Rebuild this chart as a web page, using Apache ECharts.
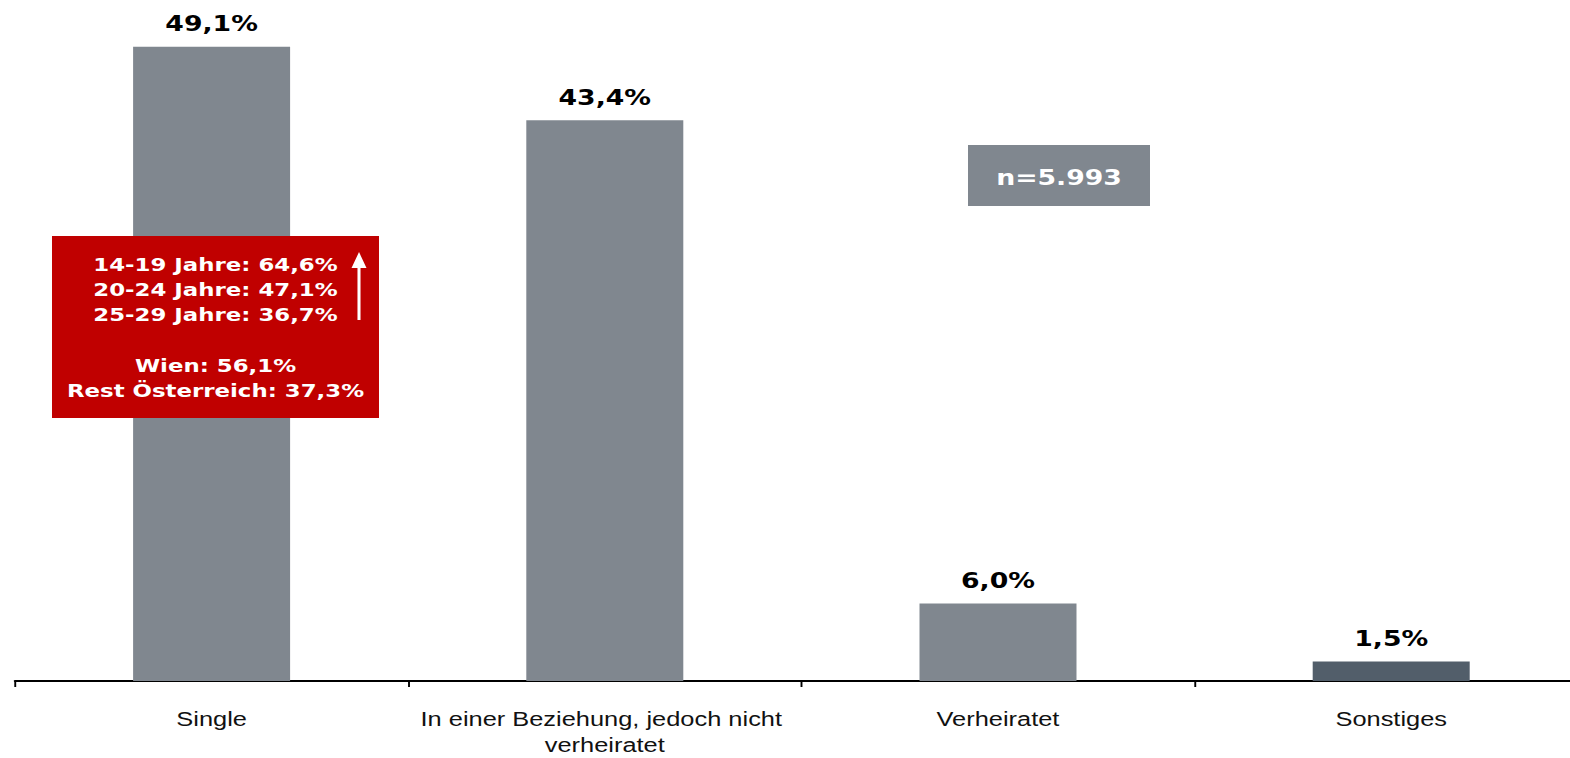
<!DOCTYPE html>
<html>
<head>
<meta charset="utf-8">
<script src="https://cdn.jsdelivr.net/npm/echarts@6/dist/echarts.min.js"></script>
<style>
  html, body { margin: 0; padding: 0; background: #ffffff; overflow: hidden; }
  #wrap { width: 1570px; height: 758px; overflow: hidden; position: relative; }
  #chart { width: 1236px; height: 758px; transform: scaleX(1.2702); transform-origin: 0 0; position: absolute; left: 0; top: 0; }
</style>
</head>
<body>
<div id="wrap"><div id="chart"></div></div>
<script>
// ---- data ----
const categories = ['Single', 'In einer Beziehung, jedoch nicht verheiratet', 'Verheiratet', 'Sonstiges'];
const values = [49.1, 43.4, 6.0, 1.5];
const barColors = ['#80878F', '#80878F', '#80878F', '#525E6A'];
const boxLinesAge = ['14-19 Jahre: 64,6%', '20-24 Jahre: 47,1%', '25-29 Jahre: 36,7%'];
const boxLinesRegion = ['Wien: 56,1%', 'Rest Österreich: 37,3%'];
const sampleText = 'n=5.993';

// horizontal stretch factor applied via CSS
const S = 1.2702;
const px = x => x / S;

const chart = echarts.init(document.getElementById('chart'), null, { renderer: 'svg' });

const boxTextStyle = { fill: '#ffffff', font: 'bold 18px "DejaVu Sans"', textAlign: 'center', textVerticalAlign: 'middle' };
const boxCx = px(215.5);
const graphics = [
  { type: 'rect', shape: { x: px(52), y: 236, width: px(327), height: 182 }, style: { fill: '#C00000' }, z: 10 },
  { type: 'rect', shape: { x: px(968), y: 145, width: px(182), height: 61 }, style: { fill: '#80878F' }, z: 10 },
  { type: 'text', x: px(1059), y: 178, style: { text: sampleText, fill: '#ffffff', font: 'bold 21px "DejaVu Sans"', textAlign: 'center', textVerticalAlign: 'middle' }, z: 11 },
  // arrow
  { type: 'line', shape: { x1: px(359), y1: 266, x2: px(359), y2: 320 }, style: { stroke: '#ffffff', lineWidth: 2.4 }, z: 11 },
  { type: 'polygon', shape: { points: [[px(359), 252], [px(351.5), 268], [px(366.5), 268]] }, style: { fill: '#ffffff' }, z: 11 }
];
const ageBaselines = [271, 296, 321];
boxLinesAge.forEach((t, i) => {
  graphics.push({ type: 'text', x: boxCx, y: ageBaselines[i] - 6.5, style: Object.assign({ text: t }, boxTextStyle), z: 11 });
});
const regionBaselines = [372, 397];
boxLinesRegion.forEach((t, i) => {
  graphics.push({ type: 'text', x: boxCx, y: regionBaselines[i] - 6.5, style: Object.assign({ text: t }, boxTextStyle), z: 11 });
});

chart.setOption({
  animation: false,
  backgroundColor: '#ffffff',
  grid: { left: px(15), width: px(393.2 * 4), top: 35, bottom: 77, containLabel: false, outerBoundsMode: 'none' },
  xAxis: {
    type: 'category',
    data: categories,
    boundaryGap: true,
    axisLine: { show: true, lineStyle: { color: '#000000', width: 2 } },
    axisTick: { show: true, length: 6, lineStyle: { color: '#000000', width: 1.5 } },
    axisLabel: {
      interval: 0,
      margin: 25,
      color: '#111111',
      fontFamily: '"Liberation Sans", Arial, sans-serif',
      fontSize: 20,
      lineHeight: 26,
      width: 292,
      overflow: 'break'
    }
  },
  yAxis: { type: 'value', min: 0, max: 50, show: false, splitLine: { show: false } },
  series: [{
    type: 'bar',
    data: values.map((v, i) => ({ value: v, itemStyle: { color: barColors[i] } })),
    barWidth: px(157),
    label: {
      show: true,
      position: 'top',
      distance: 12,
      color: '#000000',
      fontFamily: '"DejaVu Sans"',
      fontWeight: 'bold',
      fontSize: 21,
      formatter: p => p.value.toFixed(1).replace('.', ',') + '%'
    }
  }],
  graphic: graphics
});
</script>
</body>
</html>
